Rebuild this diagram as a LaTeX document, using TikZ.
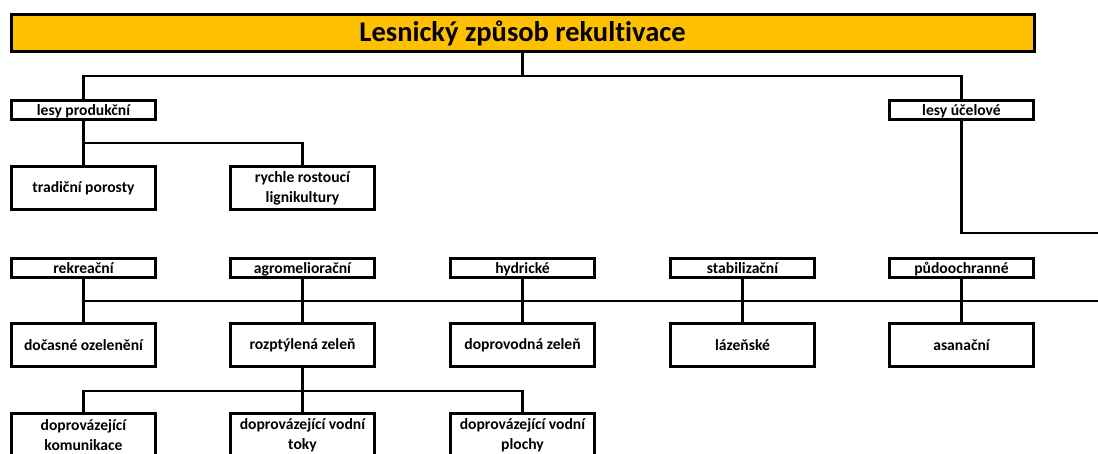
\documentclass[tikz,border=0pt]{standalone}
\usepackage{fontspec}
\setmainfont{Carlito}[Ligatures=NoCommon]
\usetikzlibrary{positioning,calc}
\definecolor{titlegold}{RGB}{255,192,0}

\begin{document}
\begin{tikzpicture}[x=1pt, y=-1pt,
    every node/.style={font=\bfseries\fontsize{15.6}{20}\selectfont},
    cell/.style={draw, line width=3pt, fill=white, minimum width=144pt, inner sep=0pt, align=center},
    box/.style={cell, minimum height=19pt, text height=14.5pt, text depth=3pt},
    tallbox/.style={cell, minimum height=43pt},
    link/.style={line width=2.6pt}]
    \useasboundingbox (0,0) rectangle (1098,453);

    % Title
    \node[cell, fill=titlegold, minimum width=1023pt, minimum height=37pt,
          font=\bfseries\fontsize{28.5}{32}\selectfont] (title) at (522.5,33) {Lesnický způsob rekultivace};

    % Junctions and free ends
    \coordinate (split1) at (522.5,76);
    \coordinate (split2) at (83.5,143);
    \coordinate (bend) at (961.5,233);
    \coordinate (edge1) at (1098,233);
    \coordinate (bus) at (83.5,301);
    \coordinate (edge2) at (1098,301);
    \coordinate (split3) at (302.5,391);

    % Connectors
    \draw[link] (title) -- (split1);
    \draw[link] (split2) |- (split1);
    \draw[link] (split1) -| (961.5,109.5);
    \draw[link] (83.5,109.5) -- (split2) -- (83.5,188);
    \draw[link] (split2) -| (302.5,188);
    \draw[link] (961.5,109.5) -- (bend) -- (edge1);
    \draw[link] (bus) -- (edge2);
    \foreach \x in {83.5,302.5,522.5,742.5,961.5}
        \draw[link] (\x,268) -- (\x,345);
    \draw[link] (302.5,345) -- (split3);
    \draw[link] (83.5,435) |- (split3) -| (522.5,435);
    \draw[link] (split3) -- (302.5,435);

    % Forest types
    \node[box] (prod) at (83.5,109.5) {lesy produkční};
    \node[box] (ucel) at (961.5,109.5) {lesy účelové};

    % Production forests
    \node[tallbox] (trad) at (83.5,188) {tradiční porosty};
    \node[tallbox] (rych) at (302.5,188) {rychle rostoucí\\lignikultury};

    % Purpose forests
    \node[box] (rekr) at (83.5,268) {rekreační};
    \node[box] (agro) at (302.5,268) {agromeliorační};
    \node[box] (hydr) at (522.5,268) {hydrické};
    \node[box] (stab) at (742.5,268) {stabilizační};
    \node[box] (pudo) at (961.5,268) {půdoochranné};

    \node[tallbox] (docas) at (83.5,345) {dočasné ozelenění};
    \node[tallbox] (rozpt) at (302.5,345) {rozptýlená zeleň};
    \node[tallbox] (doprov) at (522.5,345) {doprovodná zeleň};
    \node[tallbox] (lazen) at (742.5,345) {lázeňské};
    \node[tallbox] (asan) at (961.5,345) {asanační};

    % Scattered greenery
    \node[tallbox] (komun) at (83.5,435) {doprovázející\\komunikace};
    \node[tallbox] (toky) at (302.5,435) {doprovázející vodní\\toky};
    \node[tallbox] (plochy) at (522.5,435) {doprovázející vodní\\plochy};
\end{tikzpicture}
\end{document}
